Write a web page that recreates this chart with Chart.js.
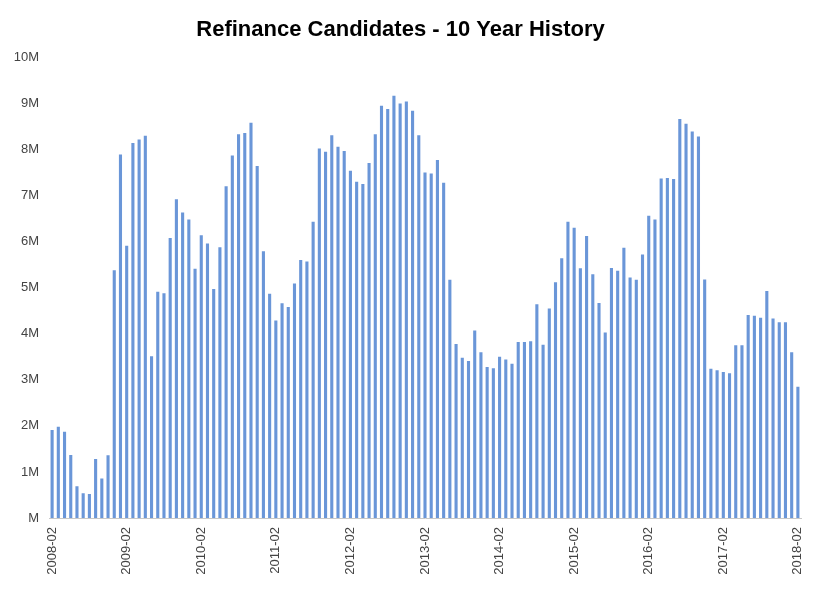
<!DOCTYPE html>
<html>
<head>
<meta charset="utf-8">
<script src="https://cdn.jsdelivr.net/npm/chart.js@4/dist/chart.umd.min.js"></script>
<style>
  html, body { margin: 0; padding: 0; background: #fff; }
  #wrap { width: 826px; height: 614px; }
</style>
</head>
<body>
<div id="wrap"><canvas id="myChart" width="826" height="614"></canvas></div>
<script>
// monthly categories 2008-02 .. 2018-02
var months = [];
for (var i = 0; i < 121; i++) {
    var m = 1 + i;               // month index from Jan 2008 (0-based: Feb = 1)
    var yr = 2008 + Math.floor(m / 12);
    var mo = (m % 12) + 1;
    months.push(yr + '-' + (mo < 10 ? '0' + mo : mo));
}

// x labels that are shown on the axis
var xTickLabels = ['2008-02', '2009-02', '2010-02', '2011-02', '2012-02', '2013-02',
                   '2014-02', '2015-02', '2016-02', '2017-02', '2018-02'];

// refinance candidates, millions
var candidates = [
    1.91, 1.98, 1.87, 1.37, 0.69, 0.54, 0.52, 1.28, 0.86, 1.36, 5.38, 7.89,
    5.91, 8.14, 8.22, 8.30, 3.51, 4.91, 4.88, 6.08, 6.92, 6.63, 6.48, 5.41,
    6.14, 5.96, 4.97, 5.88, 7.20, 7.87, 8.33, 8.36, 8.58, 7.64, 5.79, 4.87,
    4.29, 4.66, 4.58, 5.09, 5.60, 5.57, 6.43, 8.02, 7.95, 8.31, 8.06, 7.97,
    7.54, 7.30, 7.25, 7.71, 8.33, 8.95, 8.88, 9.17, 9.00, 9.04, 8.84, 8.31,
    7.50, 7.48, 7.77, 7.28, 5.17, 3.78, 3.48, 3.41, 4.07, 3.60, 3.28, 3.25,
    3.50, 3.44, 3.35, 3.82, 3.82, 3.84, 4.64, 3.76, 4.55, 5.12, 5.64, 6.43,
    6.30, 5.42, 6.12, 5.29, 4.67, 4.03, 5.43, 5.37, 5.87, 5.22, 5.17, 5.72,
    6.56, 6.48, 7.37, 7.38, 7.36, 8.66, 8.56, 8.39, 8.28, 5.18, 3.24, 3.21,
    3.17, 3.14, 3.75, 3.75, 4.41, 4.39, 4.35, 4.93, 4.33, 4.25, 4.25, 3.60,
    2.85
];

var ctx = document.getElementById('myChart').getContext('2d');
var myChart = new Chart(ctx, {
    type: 'bar',
    data: {
        labels: months,
        datasets: [{
            label: 'Refinance Candidates',
            data: candidates,
            backgroundColor: '#6a96d8',
            borderWidth: 0,
            barPercentage: 0.5,
            categoryPercentage: 1.0
        }]
    },
    options: {
        responsive: false,
        animation: false,
        layout: { padding: { left: 0, right: 25, top: 0, bottom: 0 } },
        plugins: {
            legend: { display: false },
            tooltip: { enabled: false },
            title: {
                display: true,
                text: 'Refinance Candidates - 10 Year History',
                color: '#000',
                font: { family: 'Liberation Sans, Arial, sans-serif', size: 22, weight: 'bold' },
                padding: { top: 17, bottom: 14 }
            }
        },
        scales: {
            x: {
                grid: { display: false, drawTicks: false },
                border: { display: true, color: '#c8c8c8', width: 1 },
                ticks: {
                    autoSkip: false,
                    maxRotation: 90,
                    minRotation: 90,
                    padding: 9,
                    color: '#444',
                    font: { family: 'Liberation Sans, Arial, sans-serif', size: 13 },
                    callback: function (v, i) {
                        var lab = this.getLabelForValue(v);
                        return xTickLabels.indexOf(lab) >= 0 ? lab : '';
                    }
                },
                afterFit: function (s) { s.height = 96; }
            },
            y: {
                min: 0,
                max: 10,
                grid: { display: false, drawTicks: false },
                border: { display: false },
                ticks: {
                    stepSize: 1,
                    padding: 10,
                    color: '#444',
                    font: { family: 'Liberation Sans, Arial, sans-serif', size: 13 },
                    callback: function (v) { return v === 0 ? 'M' : v + 'M'; }
                },
                afterFit: function (s) { s.width = 49; }
            }
        }
    }
});
</script>
</body>
</html>
